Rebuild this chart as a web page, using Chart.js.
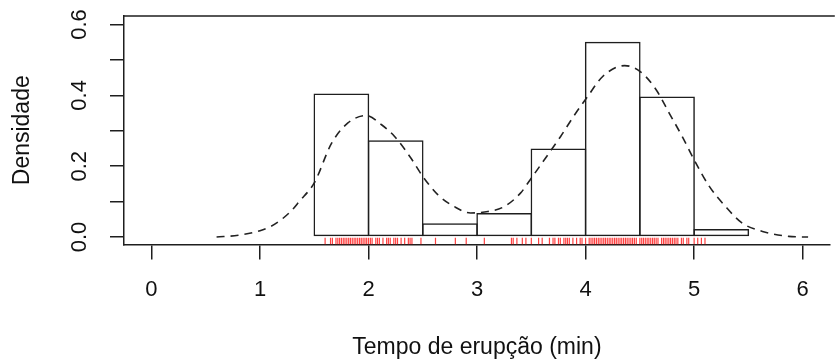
<!DOCTYPE html>
<html>
<head>
<meta charset="utf-8">
<script src="https://cdn.jsdelivr.net/npm/chart.js@4.4.1/dist/chart.umd.min.js"></script>
<style>
html,body{margin:0;padding:0;background:#fff;overflow:hidden}
#wrap{width:835px;height:364px;position:relative}
</style>
</head>
<body>
<div id="wrap"><canvas id="c" width="835" height="364"></canvas></div>
<script>
// ---- data ----
const binCenters = [1.75, 2.25, 2.75, 3.25, 3.75, 4.25, 4.75, 5.25];
const binDensity = [0.405, 0.273, 0.039, 0.068, 0.250, 0.551, 0.397, 0.023];

const densX = [0.6, 0.8, 1.0, 1.1, 1.2, 1.3, 1.36, 1.5, 1.66, 1.81, 1.98, 2.12, 2.24, 2.39, 2.5, 2.64, 2.79, 2.94, 3.1, 3.25, 3.4, 3.49, 3.61, 3.77, 3.89, 4.01, 4.16, 4.36, 4.5, 4.65, 4.77, 4.89, 5.0, 5.14, 5.29, 5.44, 5.63, 5.87, 6.05];
const densY = [0.0, 0.005, 0.018, 0.03, 0.05, 0.078, 0.10, 0.153, 0.265, 0.322, 0.343, 0.317, 0.284, 0.223, 0.171, 0.119, 0.086, 0.068, 0.072, 0.086, 0.124, 0.162, 0.214, 0.284, 0.341, 0.393, 0.454, 0.484, 0.468, 0.416, 0.350, 0.284, 0.218, 0.143, 0.086, 0.040, 0.016, 0.002, 0.0];

const rugX = [1.6, 1.65, 1.667, 1.7, 1.717, 1.733, 1.75, 1.767, 1.783, 1.8, 1.817, 1.833, 1.85, 1.867, 1.883, 1.9, 1.917, 1.933, 1.95, 1.967, 1.983, 2.0, 2.017, 2.033, 2.067, 2.083, 2.1, 2.133, 2.167, 2.183, 2.2, 2.233, 2.25, 2.267, 2.3, 2.333, 2.367, 2.383, 2.4, 2.483, 2.617, 2.8, 2.9, 3.067, 3.317, 3.333, 3.367, 3.417, 3.45, 3.5, 3.567, 3.6, 3.667, 3.7, 3.717, 3.75, 3.767, 3.8, 3.817, 3.833, 3.85, 3.883, 3.917, 3.95, 3.967, 4.0, 4.033, 4.05, 4.067, 4.083, 4.1, 4.117, 4.133, 4.15, 4.167, 4.183, 4.2, 4.217, 4.233, 4.25, 4.267, 4.283, 4.3, 4.317, 4.333, 4.35, 4.367, 4.383, 4.4, 4.417, 4.433, 4.45, 4.467, 4.5, 4.517, 4.533, 4.55, 4.567, 4.583, 4.6, 4.617, 4.633, 4.65, 4.667, 4.7, 4.717, 4.733, 4.75, 4.767, 4.783, 4.8, 4.817, 4.833, 4.85, 4.883, 4.9, 4.933, 4.95, 5.0, 5.033, 5.067, 5.1];

const xTicks = [0, 1, 2, 3, 4, 5, 6];
const yTicks = [0, 0.1, 0.2, 0.3, 0.4, 0.5, 0.6];
const yTickLabels = ['0.0', '', '0.2', '', '0.4', '', '0.6'];
const xTitle = 'Tempo de erupção (min)';
const yTitle = 'Densidade';

// ---- chart ----
const FONT = "'Liberation Sans', Arial, Helvetica, sans-serif";
const INK = '#1e1e1e';

const frame = {
  id: 'frame',
  afterDraw(chart) {
    const {ctx, chartArea: a, scales: {y}} = chart;
    ctx.save();
    ctx.strokeStyle = INK;
    ctx.lineWidth = 1.5;
    ctx.beginPath();
    ctx.moveTo(a.left, a.top);
    ctx.lineTo(a.right + 5, a.top);
    ctx.stroke();
    ctx.fillStyle = '#111';
    ctx.font = '22px ' + FONT;
    ctx.textAlign = 'center';
    ctx.textBaseline = 'middle';
    yTicks.forEach((v, i) => {
      const lbl = yTickLabels[i];
      if (!lbl) return;
      const py = y.getPixelForValue(v);
      ctx.save();
      ctx.translate(80, py);
      ctx.rotate(-Math.PI / 2);
      ctx.fillText(lbl, 0, 0);
      ctx.restore();
    });
    ctx.restore();
  }
};

new Chart(document.getElementById('c'), {
  type: 'bar',
  data: {
    datasets: [
      {
        type: 'scatter',
        order: 1,
        data: rugX.map(v => ({x: v, y: -0.0115})),
        pointStyle: 'line',
        rotation: 90,
        pointRadius: 3.3,
        borderColor: 'rgba(255,0,0,0.75)',
        backgroundColor: 'rgba(255,0,0,0.75)',
        borderWidth: 1.2,
        showLine: false
      },
      {
        type: 'line',
        order: 2,
        data: densX.map((v, i) => ({x: v, y: densY[i]})),
        borderColor: '#222',
        borderWidth: 1.6,
        borderDash: [8, 6],
        pointRadius: 0,
        fill: false,
        cubicInterpolationMode: 'monotone'
      },
      {
        type: 'bar',
        order: 3,
        data: binCenters.map((v, i) => ({x: v, y: binDensity[i]})),
        backgroundColor: 'rgba(255,255,255,0)',
        borderColor: INK,
        borderWidth: 1.5,
        borderSkipped: false,
        barPercentage: 1.0274,
        categoryPercentage: 1
      }
    ]
  },
  options: {
    responsive: false,
    animation: false,
    events: [],
    layout: {padding: {top: 16, left: 0, right: 0, bottom: 0}},
    plugins: {legend: {display: false}, tooltip: {enabled: false}},
    scales: {
      x: {
        type: 'linear',
        position: 'bottom',
        offset: false,
        min: -0.253,
        max: 6.25,
        afterBuildTicks: s => { s.ticks = xTicks.map(v => ({value: v})); },
        afterFit: s => { s.height = 119.5; },
        grid: {offset: false, drawOnChartArea: false, drawTicks: true, tickLength: 15, color: INK, lineWidth: 1.5},
        border: {display: true, color: INK, width: 1.5},
        ticks: {
          color: '#111',
          font: {family: FONT, size: 22},
          padding: 17,
          maxRotation: 0,
          callback: v => String(v)
        },
        title: {
          display: true,
          text: xTitle,
          color: '#111',
          font: {family: FONT, size: 23},
          padding: {top: 0, bottom: 3}
        }
      },
      y: {
        type: 'linear',
        position: 'left',
        min: -0.021,
        max: 0.624,
        afterBuildTicks: s => { s.ticks = yTicks.map(v => ({value: v})); },
        afterFit: s => { s.width = 124; },
        grid: {drawOnChartArea: false, drawTicks: true, tickLength: 14, color: INK, lineWidth: 1.5},
        border: {display: true, color: INK, width: 1.5},
        ticks: {display: false},
        title: {
          display: true,
          text: yTitle,
          color: '#111',
          font: {family: FONT, size: 23},
          padding: {top: 9, bottom: 0}
        }
      }
    }
  },
  plugins: [frame]
});
</script>
</body>
</html>
